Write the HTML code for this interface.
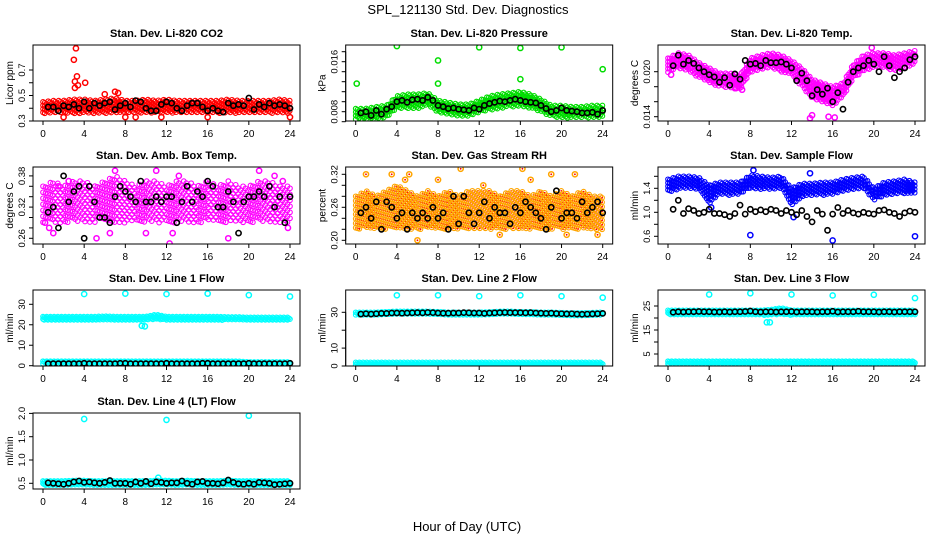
<!DOCTYPE html>
<html><head><meta charset="utf-8"><style>
html,body{margin:0;padding:0;background:#fff;}
svg{display:block;font-family:"Liberation Sans",Arial,sans-serif;}
</style></head><body>
<svg id="chart" width="936" height="540" viewBox="0 0 936 540">
<text x="468" y="14" font-size="13" text-anchor="middle">SPL_121130  Std. Dev. Diagnostics</text>
<text x="467" y="531" font-size="13" text-anchor="middle">Hour of Day (UTC)</text>
</svg>
<script>
// ---------- data ----------
const bandHours = [0,1,2,3,4,5,6,7,8,9,10,11,12,13,14,15,16,17,18,19,20,21,22,23,24];
const meanHours = [0.5,1,1.5,2,2.5,3,3.5,4,4.5,5,5.5,6,6.5,7,7.5,8,8.5,9,9.5,10,10.5,11,11.5,12,12.5,13,13.5,14,14.5,15,15.5,16,16.5,17,17.5,18,18.5,19,19.5,20,20.5,21,21.5,22,22.5,23,23.5,24];
const xTicks = [0,4,8,12,16,20,24];

const co2Lo = [0.36,0.36,0.36,0.36,0.36,0.36,0.36,0.36,0.36,0.36,0.36,0.36,0.36,0.36,0.36,0.36,0.36,0.36,0.36,0.36,0.36,0.36,0.36,0.36,0.36];
const co2Hi = [0.45,0.46,0.46,0.47,0.47,0.46,0.47,0.48,0.46,0.46,0.47,0.46,0.47,0.46,0.46,0.46,0.46,0.46,0.47,0.46,0.46,0.46,0.46,0.47,0.46];
const co2Mean = [0.41,0.41,0.38,0.42,0.41,0.43,0.40,0.45,0.40,0.44,0.42,0.44,0.45,0.39,0.42,0.44,0.41,0.46,0.45,0.40,0.38,0.38,0.43,0.45,0.44,0.40,0.38,0.42,0.44,0.44,0.41,0.38,0.40,0.38,0.37,0.44,0.42,0.43,0.42,0.48,0.39,0.43,0.41,0.44,0.42,0.43,0.42,0.40];
const co2OutX = [3.2,3.0,3.1,3.3,3.1,4.1,3.4,6.0,7.0,7.3,2.0,8.0,11.5,16.0,24.0,9.0];
const co2OutY = [0.87,0.78,0.61,0.65,0.56,0.60,0.58,0.51,0.53,0.52,0.33,0.33,0.33,0.33,0.33,0.33];

const presLo = [0.0068,0.0065,0.0067,0.0070,0.0085,0.0085,0.0085,0.0090,0.0078,0.0075,0.0072,0.0072,0.0078,0.0082,0.0085,0.0088,0.0088,0.0085,0.0080,0.0072,0.0070,0.0070,0.0070,0.0070,0.0070];
const presHi = [0.0085,0.0085,0.0088,0.0090,0.0105,0.0108,0.0108,0.0110,0.0098,0.0095,0.0092,0.0092,0.0098,0.0105,0.0108,0.0110,0.0112,0.0108,0.0100,0.0090,0.0090,0.0088,0.0088,0.0090,0.0090];
const presMean = [0.0078,0.0080,0.0074,0.0082,0.0076,0.0084,0.0088,0.0096,0.0098,0.0095,0.0099,0.0100,0.0098,0.0103,0.0098,0.0090,0.0088,0.0085,0.0086,0.0084,0.0083,0.0082,0.0086,0.0084,0.0090,0.0093,0.0095,0.0097,0.0096,0.0098,0.0100,0.0098,0.0096,0.0095,0.0094,0.0090,0.0085,0.0080,0.0082,0.0086,0.0082,0.0081,0.0080,0.0078,0.0078,0.0079,0.0076,0.0082];
const presOutX = [0.1,4,8,8,12,16,16,20,24];
const presOutY = [0.0125,0.0185,0.0162,0.0125,0.0183,0.0182,0.0132,0.0183,0.0148];

const tempLo = [0.0198,0.0205,0.0200,0.0192,0.0185,0.0180,0.0178,0.0175,0.0198,0.0202,0.0205,0.0200,0.0195,0.0180,0.0165,0.0160,0.0155,0.0165,0.0190,0.0200,0.0205,0.0205,0.0200,0.0205,0.0210];
const tempHi = [0.0218,0.0225,0.0222,0.0212,0.0205,0.0198,0.0198,0.0195,0.0218,0.0222,0.0225,0.0222,0.0215,0.0205,0.0190,0.0185,0.0180,0.0185,0.0210,0.0222,0.0225,0.0225,0.0222,0.0225,0.0228];
const tempMean = [0.0208,0.0222,0.0210,0.0215,0.0211,0.0205,0.0200,0.0196,0.0193,0.0186,0.0192,0.0182,0.0197,0.0190,0.0215,0.0210,0.0211,0.0208,0.0215,0.0212,0.0212,0.0213,0.0210,0.0205,0.0188,0.0198,0.0188,0.0168,0.0176,0.0170,0.0178,0.0160,0.0172,0.0150,0.0186,0.0200,0.0205,0.0208,0.0215,0.0210,0.0200,0.0220,0.0208,0.0192,0.0200,0.0205,0.0216,0.0220];
const tempOutX = [13.8,14.0,15.6,16.2,0.3,6.5,7.2,19.8];
const tempOutY = [0.0138,0.0142,0.0140,0.0139,0.0196,0.0178,0.0176,0.0232];

const boxLo = [0.29,0.29,0.29,0.29,0.29,0.29,0.29,0.29,0.29,0.29,0.29,0.29,0.29,0.29,0.29,0.29,0.29,0.29,0.29,0.29,0.29,0.29,0.29,0.29,0.29];
const boxHi = [0.36,0.37,0.36,0.37,0.37,0.36,0.37,0.38,0.37,0.36,0.37,0.37,0.36,0.37,0.37,0.36,0.37,0.36,0.37,0.36,0.36,0.37,0.37,0.36,0.36];
const boxMean = [0.31,0.32,0.28,0.38,0.33,0.35,0.36,0.26,0.36,0.33,0.30,0.30,0.29,0.34,0.36,0.35,0.34,0.33,0.37,0.33,0.33,0.34,0.33,0.34,0.34,0.29,0.33,0.36,0.33,0.35,0.34,0.37,0.36,0.32,0.32,0.35,0.33,0.27,0.33,0.34,0.34,0.35,0.34,0.36,0.32,0.34,0.29,0.34];
const boxOutX = [0.2,0.6,1,1.5,2.5,5.2,6.5,7,10,11,12.3,12.6,13.2,18,21,22.5,23.3,23.8];
const boxOutY = [0.29,0.28,0.27,0.36,0.37,0.26,0.27,0.39,0.27,0.39,0.25,0.27,0.38,0.26,0.39,0.38,0.37,0.28];

const rhLo = [0.22,0.22,0.22,0.22,0.22,0.22,0.22,0.22,0.22,0.22,0.22,0.22,0.22,0.22,0.22,0.22,0.22,0.22,0.22,0.22,0.22,0.22,0.22,0.22,0.22];
const rhHi = [0.28,0.29,0.28,0.29,0.30,0.29,0.28,0.29,0.28,0.29,0.28,0.29,0.29,0.29,0.28,0.29,0.29,0.28,0.29,0.28,0.29,0.28,0.29,0.28,0.28];
const rhMean = [0.25,0.26,0.24,0.27,0.22,0.27,0.26,0.24,0.25,0.22,0.25,0.24,0.25,0.24,0.26,0.24,0.25,0.22,0.28,0.23,0.28,0.25,0.23,0.25,0.27,0.24,0.26,0.25,0.25,0.23,0.26,0.25,0.27,0.26,0.25,0.24,0.22,0.26,0.29,0.24,0.25,0.25,0.24,0.27,0.25,0.26,0.27,0.25];
const rhOutX = [1.0,3.5,4.8,5.2,6.0,8.0,10.2,12.4,14.0,16.2,17.0,19.0,20.5,21.3,23.5];
const rhOutY = [0.32,0.32,0.31,0.32,0.20,0.31,0.33,0.30,0.21,0.33,0.31,0.32,0.21,0.32,0.21];

const flowLo = [1.32,1.38,1.40,1.38,1.15,1.30,1.28,1.30,1.40,1.38,1.38,1.40,1.10,1.25,1.28,1.28,1.30,1.35,1.38,1.40,1.20,1.28,1.30,1.30,1.30];
const flowHi = [1.55,1.60,1.60,1.58,1.45,1.50,1.50,1.50,1.62,1.60,1.58,1.60,1.40,1.48,1.48,1.50,1.50,1.55,1.58,1.60,1.40,1.50,1.52,1.55,1.50];
const flowMean = [1.05,1.20,0.98,1.06,1.03,0.98,1.00,1.05,0.98,0.98,0.96,0.93,0.98,1.12,0.97,1.05,1.01,1.04,1.01,1.05,1.03,0.98,1.03,1.00,0.96,1.03,0.93,0.84,1.03,0.97,0.70,0.97,1.08,0.98,1.03,0.99,0.97,1.00,0.98,0.97,1.03,1.04,1.00,0.98,0.93,0.99,1.02,1.00];
const flowOutX = [8,16,24,12.2,4.2,8.3,13.8];
const flowOutY = [0.62,0.53,0.60,0.92,1.08,1.70,1.65];

const l1Lo = [22.3,22.3,22.3,22.3,22.3,22.3,22.3,22.3,22.3,22.3,22.3,22.6,22.3,22.3,22.3,22.3,22.3,22.3,22.2,22.2,22.0,22.0,22.0,22.0,22.0];
const l1Hi = [24.0,24.0,24.0,24.0,24.0,24.0,24.2,24.0,24.0,24.0,24.0,25.0,24.0,24.0,24.0,24.0,24.0,24.0,23.8,23.8,23.6,23.6,23.6,23.6,23.6];
const l1bLo = [0.8,0.8,0.8,0.8,0.8,0.8,0.8,0.8,0.8,0.8,0.8,0.8,0.8,0.8,0.8,0.8,0.8,0.8,0.8,0.8,0.8,0.8,0.8,0.8,0.8];
const l1bHi = [2.2,2.2,2.2,2.2,2.2,2.2,2.2,2.2,2.2,2.2,2.2,2.2,2.2,2.2,2.2,2.2,2.2,2.2,2.2,2.2,1.8,1.8,1.8,1.8,1.8];
const l1Mean = [1.0,1.0,1.0,1.0,1.0,1.0,1.0,1.2,1.0,1.0,1.0,1.0,1.0,1.0,1.2,1.2,1.0,1.0,1.0,1.0,1.0,1.0,1.0,1.2,1.0,1.0,1.0,1.0,1.0,1.0,1.2,1.2,1.0,1.0,1.0,1.0,1.0,1.0,1.0,1.2,1.0,1.0,1.0,1.0,1.0,1.0,1.0,1.2];
const l1OutX = [4,8,12,16,20,24,9.6,9.9];
const l1OutY = [35,35.2,35,35.2,34.5,33.8,19.5,19.2];

const l2Lo = [28.5,28.5,28.5,28.5,28.8,28.8,28.8,28.8,28.5,28.5,28.5,28.5,28.5,28.5,28.8,28.8,28.8,28.5,28.5,28.3,28.3,28.0,28.0,28.2,28.3];
const l2Hi = [30.0,30.0,30.0,30.3,30.5,30.5,30.5,30.5,30.3,30.0,30.0,30.0,30.0,30.2,30.5,30.5,30.3,30.2,30.0,30.0,29.8,29.6,29.6,29.8,30.0];
const l2bLo = [0.5,0.5,0.5,0.5,0.5,0.5,0.5,0.5,0.5,0.5,0.5,0.5,0.5,0.5,0.5,0.5,0.5,0.5,0.5,0.5,0.5,0.5,0.5,0.5,0.5];
const l2bHi = [2.0,2.0,2.0,2.0,2.0,2.0,2.0,2.0,2.0,2.0,2.0,2.0,2.0,2.0,2.0,2.0,2.0,2.0,2.0,2.0,2.0,2.0,2.0,2.0,2.0];
const l2Mean = [29.0,29.2,29.0,29.2,29.4,29.4,29.6,29.6,29.5,29.6,29.7,29.8,29.7,29.9,29.8,29.6,29.5,29.5,29.6,29.6,29.8,29.7,29.6,29.6,29.4,29.6,29.7,29.8,29.9,29.8,29.8,29.8,29.7,29.8,29.6,29.5,29.4,29.5,29.3,29.2,29.1,29.2,29.0,28.9,29.0,29.1,29.2,29.4];
const l2OutX = [4,8,12,16,20,24];
const l2OutY = [39.5,39.5,39.0,39.5,39.0,38.2];

const l3Lo = [21.2,21.2,21.2,21.2,21.2,21.2,21.2,21.2,21.2,21.2,21.2,21.5,21.2,21.2,21.2,21.2,21.2,21.2,21.2,21.2,21.2,21.2,21.2,21.2,21.2];
const l3Hi = [23.2,23.2,23.2,23.2,23.2,23.2,23.2,23.2,23.2,23.2,23.5,24.2,23.2,23.2,23.2,23.2,23.2,23.2,23.2,23.2,23.2,23.2,23.2,23.2,23.2];
const l3bLo = [0.5,0.5,0.5,0.5,0.5,0.5,0.5,0.5,0.5,0.5,0.5,0.5,0.5,0.5,0.5,0.5,0.5,0.5,0.5,0.5,0.5,0.5,0.5,0.5,0.5];
const l3bHi = [2.0,2.0,2.0,2.0,2.0,2.0,2.0,2.0,2.0,2.0,2.0,2.0,2.0,2.0,2.0,2.0,2.0,2.0,2.0,2.0,2.0,2.0,2.0,2.0,2.0];
const l3Mean = [22.4,22.6,22.5,22.6,22.6,22.7,22.6,22.6,22.5,22.5,22.6,22.5,22.6,22.6,22.7,22.9,22.6,22.5,22.6,22.6,22.5,22.6,22.6,22.7,22.5,22.6,22.6,22.6,22.5,22.6,22.6,22.8,22.5,22.6,22.6,22.6,22.8,22.6,22.6,22.6,22.5,22.6,22.6,22.5,22.6,22.6,22.6,22.6];
const l3OutX = [4,8,12,16,20,24,9.6,9.9];
const l3OutY = [29.8,30.3,29.8,29.4,29.7,28.3,18.2,18.2];

const l4Lo = [0.46,0.46,0.46,0.46,0.46,0.46,0.46,0.46,0.46,0.46,0.46,0.46,0.46,0.46,0.46,0.46,0.46,0.46,0.46,0.46,0.46,0.46,0.46,0.46,0.46];
const l4Hi = [0.55,0.55,0.55,0.56,0.56,0.55,0.55,0.55,0.55,0.55,0.55,0.56,0.56,0.55,0.56,0.55,0.55,0.55,0.56,0.55,0.55,0.55,0.55,0.55,0.55];
const l4Mean = [0.51,0.50,0.49,0.48,0.50,0.53,0.55,0.52,0.53,0.51,0.50,0.52,0.56,0.50,0.50,0.50,0.48,0.53,0.50,0.54,0.49,0.53,0.52,0.50,0.51,0.51,0.55,0.50,0.48,0.53,0.54,0.50,0.50,0.49,0.51,0.57,0.52,0.49,0.48,0.50,0.48,0.52,0.51,0.50,0.47,0.48,0.49,0.50];
const l4OutX = [4,12,20,11.2];
const l4OutY = [1.88,1.86,1.95,0.62];

// ---------- drawing ----------
const NS = "http://www.w3.org/2000/svg";
const svg = document.getElementById('chart');
function mk(tag, attrs, parent){ const e=document.createElementNS(NS,tag); for(const k in attrs) e.setAttribute(k,attrs[k]); (parent||svg).appendChild(e); return e; }
function interp(arr, h){ const i=Math.min(23,Math.floor(h)); const f=h-i; return arr[i]*(1-f)+arr[i+1]*f; }

const colX = [33, 345.7, 658];
const rowY = [[45,121],[167,244],[290,366],[413,489]];
const W = 267;

const panels = [
 {name:'co2', title:'Stan. Dev. Li-820 CO2', ylab:'Licor ppm', c:0, r:0, y0:0.3, p0:121, y1:0.7, p1:70, ticks:[0.3,0.4,0.5,0.6,0.7], labels:[0.3,0.5,0.7], dec:1, color:'#ff0000', bands:[[co2Lo,co2Hi]], mean:co2Mean, ox:co2OutX, oy:co2OutY, dx:0.17, dy:3.5},
 {name:'pressure', title:'Stan. Dev. Li-820 Pressure', ylab:'kPa', c:1, r:0, y0:0.008, p0:111.7, y1:0.016, p1:61.7, ticks:[0.0064,0.008,0.0096,0.0112,0.0128,0.0144,0.016,0.0176], labels:[0.008,0.016], dec:3, color:'#00dd00', bands:[[presLo,presHi]], mean:presMean, ox:presOutX, oy:presOutY, dx:0.17, dy:3.5},
 {name:'temp', title:'Stan. Dev. Li-820 Temp.', ylab:'degrees C', c:2, r:0, y0:0.014, p0:116.7, y1:0.020, p1:71.7, ticks:[0.014,0.016,0.018,0.020], labels:[0.014,0.020], dec:3, color:'#ff00ff', bands:[[tempLo,tempHi]], mean:tempMean, ox:tempOutX, oy:tempOutY, dx:0.17, dy:3.5},
 {name:'box-temp', title:'Stan. Dev. Amb. Box Temp.', ylab:'degrees C', c:0, r:1, y0:0.26, p0:238.3, y1:0.38, p1:175.9, ticks:[0.26,0.28,0.30,0.32,0.34,0.36,0.38], labels:[0.26,0.32,0.38], dec:2, color:'#ff00ff', bands:[[boxLo,boxHi]], mean:boxMean, ox:boxOutX, oy:boxOutY, dx:0.24, dy:6},
 {name:'rh', title:'Stan. Dev. Gas Stream RH', ylab:'percent', c:1, r:1, y0:0.20, p0:240.3, y1:0.32, p1:174.3, ticks:[0.20,0.22,0.24,0.26,0.28,0.30,0.32], labels:[0.20,0.26,0.32], dec:2, color:'#ffa500', dot:'#ff0000', bands:[[rhLo,rhHi]], mean:rhMean, ox:rhOutX, oy:rhOutY, dx:0.18, dy:4.5},
 {name:'sample-flow', title:'Stan. Dev. Sample Flow', ylab:'ml/min', c:2, r:1, y0:0.6, p0:236.3, y1:1.4, p1:188.3, ticks:[0.6,0.8,1.0,1.2,1.4,1.6], labels:[0.6,1.0,1.4], dec:1, color:'#0000ff', bands:[[flowLo,flowHi]], mean:flowMean, ox:flowOutX, oy:flowOutY, dx:0.17, dy:3.5},
 {name:'line1-flow', title:'Stan. Dev. Line 1 Flow', ylab:'ml/min', c:0, r:2, y0:0, p0:365.7, y1:30, p1:304.3, ticks:[0,10,20,30], labels:[0,10,20,30], dec:0, color:'#00ffff', bands:[[l1Lo,l1Hi],[l1bLo,l1bHi]], mean:l1Mean, ox:l1OutX, oy:l1OutY, dx:0.12, dy:2.5},
 {name:'line2-flow', title:'Stan. Dev. Line 2 Flow', ylab:'ml/min', c:1, r:2, y0:0, p0:366, y1:30, p1:312.3, ticks:[0,10,20,30], labels:[0,10,30], dec:0, color:'#00ffff', bands:[[l2Lo,l2Hi],[l2bLo,l2bHi]], mean:l2Mean, ox:l2OutX, oy:l2OutY, dx:0.12, dy:2.5},
 {name:'line3-flow', title:'Stan. Dev. Line 3 Flow', ylab:'ml/min', c:2, r:2, y0:5, p0:354, y1:25, p1:306, ticks:[0,5,10,15,20,25], labels:[5,15,25], dec:0, color:'#00ffff', bands:[[l3Lo,l3Hi],[l3bLo,l3bHi]], mean:l3Mean, ox:l3OutX, oy:l3OutY, dx:0.12, dy:2.5},
 {name:'line4-flow', title:'Stan. Dev. Line 4 (LT) Flow', ylab:'ml/min', c:0, r:3, y0:0.5, p0:483.3, y1:2.0, p1:413.4, ticks:[0.5,1.0,1.5,2.0], labels:[0.5,1.0,1.5,2.0], dec:1, color:'#00ffff', bands:[[l4Lo,l4Hi]], mean:l4Mean, ox:l4OutX, oy:l4OutY, dx:0.12, dy:2.5}
];

panels.forEach(p=>{
  const L = colX[p.c], R = L+W, T = rowY[p.r][0], B = rowY[p.r][1];
  const xs = h => L + 10 + h*(W-20)/24;
  const ys = v => p.p0 + (v-p.y0)*(p.p1-p.p0)/(p.y1-p.y0);
  const g = mk('g',{});
  
  
  const clipId = 'clip-'+p.name;
  const cp = mk('clipPath',{id:clipId}, g); mk('rect',{x:L,y:T,width:W,height:B-T},cp);
  const marks = mk('g',{'clip-path':'url(#'+clipId+')'}, g);
  
  
  p.bands.forEach(([lo,hi])=>{
    let col=0;
    for(let h=0; h<=24.001; h+=p.dx, col++){
      const yl = ys(interp(lo,h)), yh = ys(interp(hi,h));
      const top = Math.min(yl,yh), bot = Math.max(yl,yh);
      for(let y=top+(col%3)*p.dy/3; y<=bot; y+=p.dy){
        const c = mk('circle',{cx:xs(h).toFixed(1),cy:y.toFixed(1),r:2.3,fill:'none',stroke:p.color,'stroke-width':1.1}, marks);
        
        
        if(p.dot) mk('circle',{cx:xs(h).toFixed(1),cy:y.toFixed(1),r:0.9,fill:p.dot}, marks);
      }
    }
  });
  p.ox.forEach((h,i)=>{
    const c = mk('circle',{cx:xs(h),cy:ys(p.oy[i]),r:2.6,fill:'none',stroke:p.color,'stroke-width':1.5}, marks);
    
    
    if(p.dot) mk('circle',{cx:xs(h),cy:ys(p.oy[i]),r:0.9,fill:p.dot}, marks);
  });
  p.mean.forEach((v,i)=>{
    const c = mk('circle',{cx:xs(meanHours[i]),cy:ys(v),r:2.6,fill:'none',stroke:'#000','stroke-width':1.6}, marks);
    
    
  });
  const fr = mk('rect',{x:L,y:T,width:W,height:B-T,fill:'none',stroke:'#000','stroke-width':1}, g);
  
  
  const xa = mk('g',{}, g);
  
  
  mk('line',{x1:xs(0),x2:xs(24),y1:B,y2:B,stroke:'#000'}, xa);
  xTicks.forEach(t=>{
    mk('line',{x1:xs(t),x2:xs(t),y1:B,y2:B+4,stroke:'#000'}, xa);
    const tx = mk('text',{x:xs(t),y:B+16,'font-size':10,'text-anchor':'middle'}, xa);
    tx.textContent = t;
  });
  const ya = mk('g',{}, g);
  
  
  const tys = p.ticks.map(ys);
  mk('line',{x1:L,x2:L,y1:Math.min(...tys),y2:Math.max(...tys),stroke:'#000'}, ya);
  p.ticks.forEach(t=>{ mk('line',{x1:L-4,x2:L,y1:ys(t),y2:ys(t),stroke:'#000'}, ya); });
  p.labels.forEach(t=>{
    const yy = ys(t);
    const tx = mk('text',{x:L-8,y:yy,'font-size':9.5,'text-anchor':'middle',transform:`rotate(-90 ${L-8} ${yy})`}, ya);
    tx.textContent = t.toFixed(p.dec);
  });
  const yl = mk('text',{x:L-20,y:(T+B)/2,'font-size':10,'text-anchor':'middle',transform:`rotate(-90 ${L-20} ${(T+B)/2})`}, g);
  yl.textContent = p.ylab;
  
  
  const ti = mk('text',{x:L+W/2,y:T-8,'font-size':11,'font-weight':'bold','text-anchor':'middle'}, g);
  ti.textContent = p.title;
  
  
});
</script>
</body></html>
